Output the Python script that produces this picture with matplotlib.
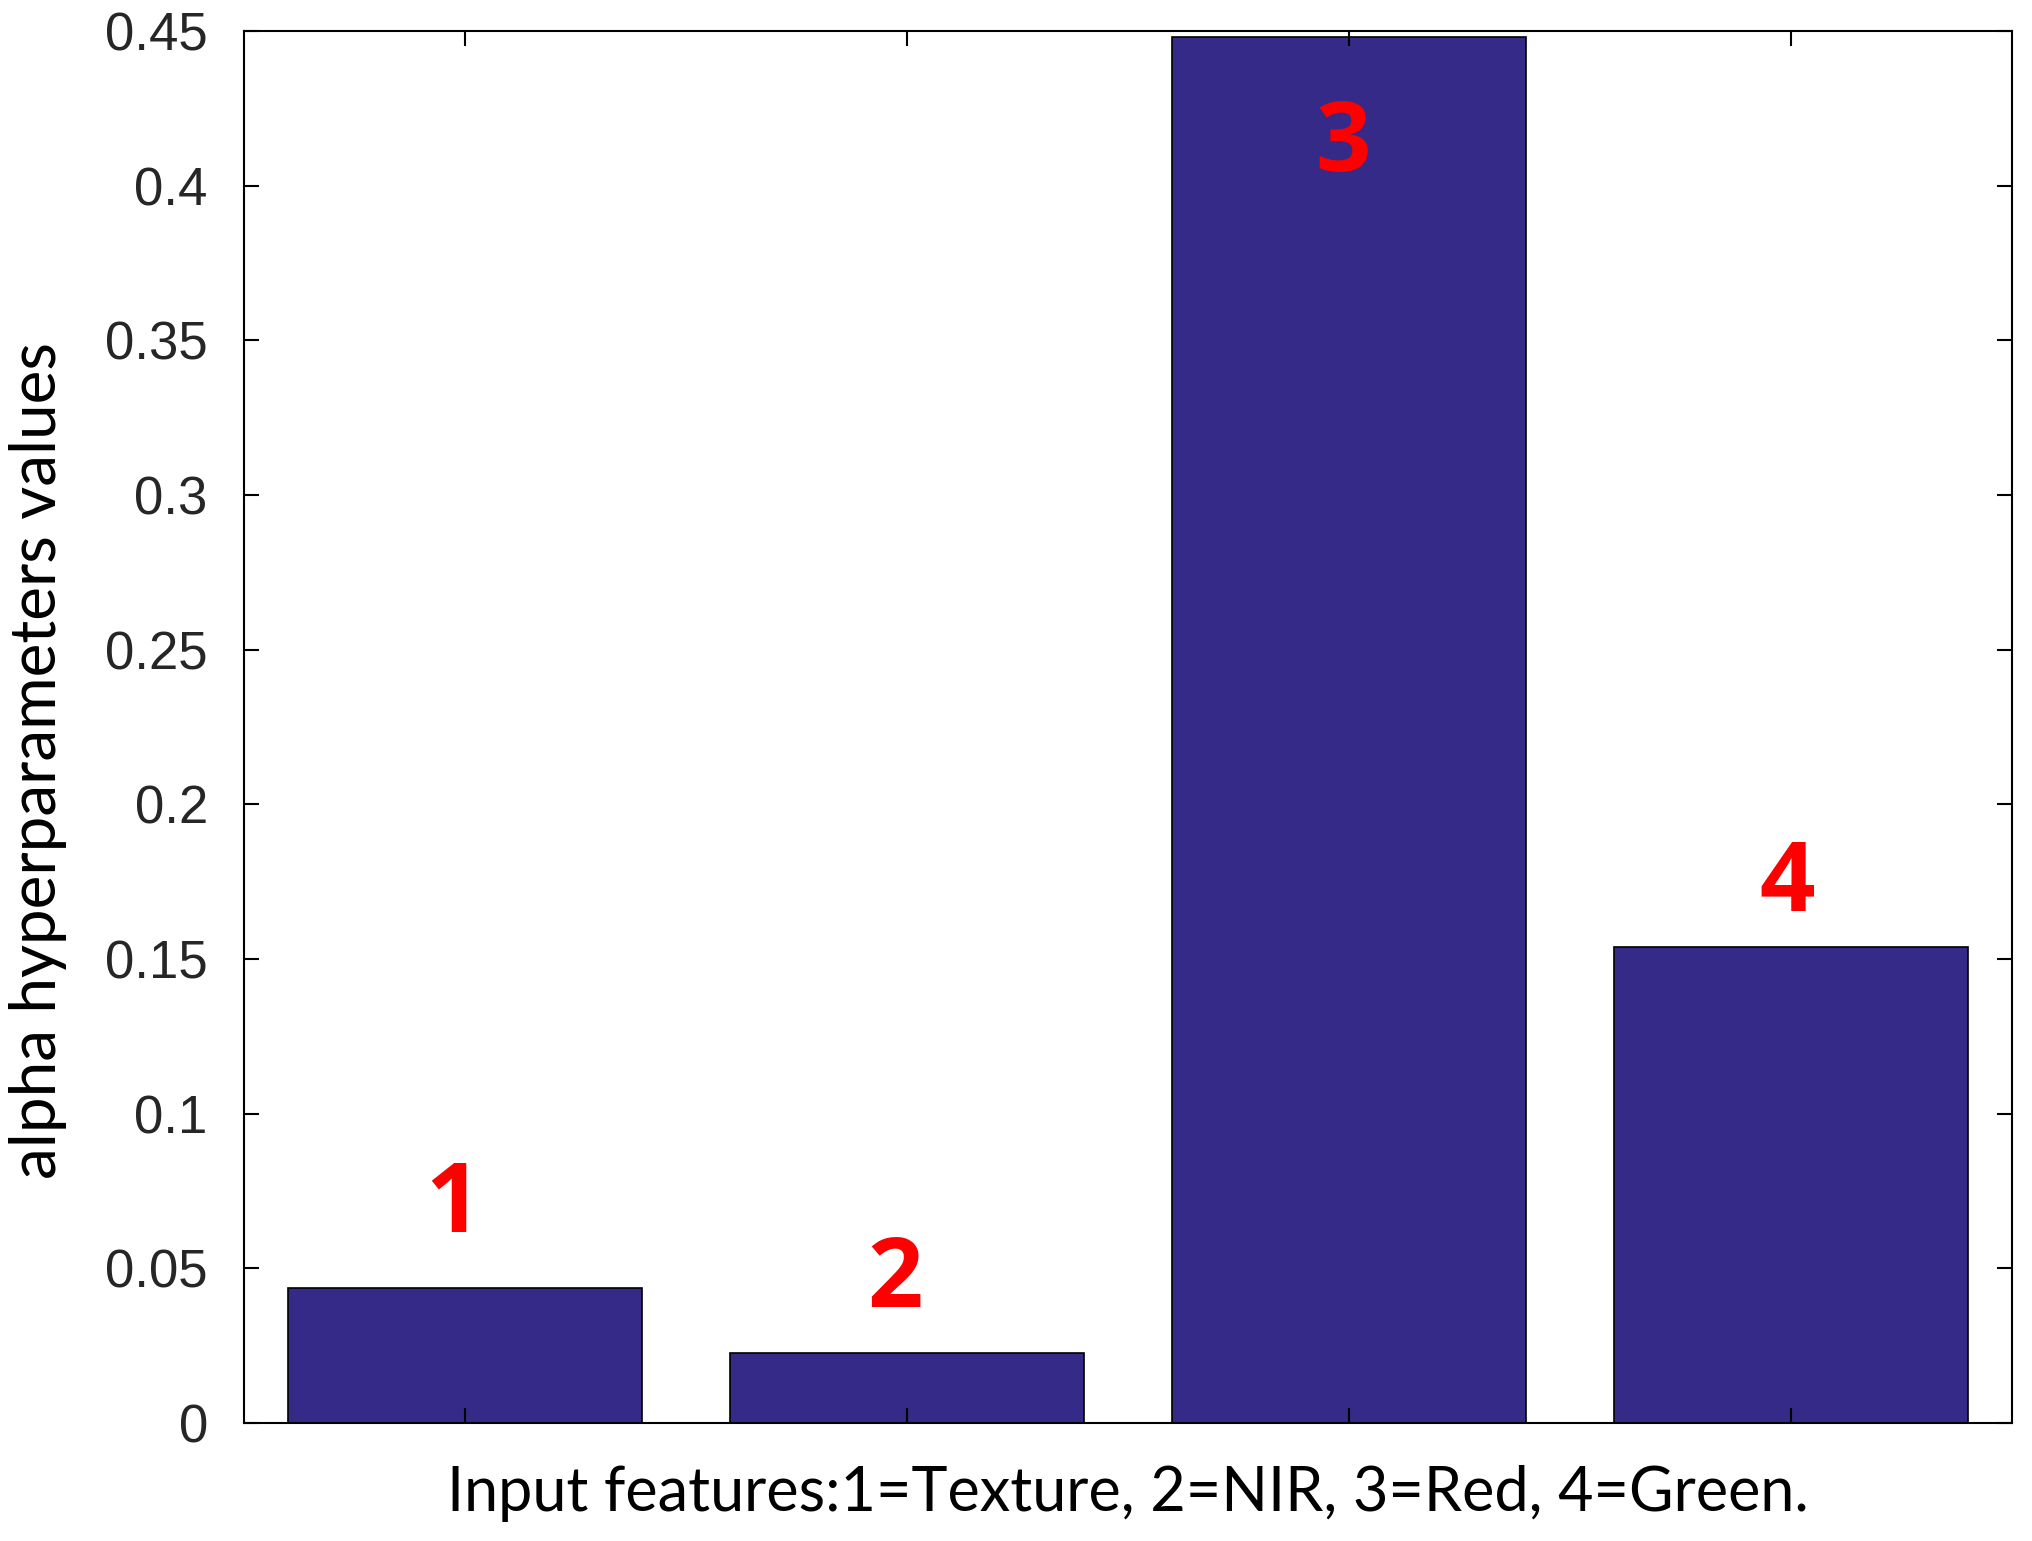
import matplotlib.pyplot as plt
import numpy as np

# feature index and alpha values
features = [1, 2, 3, 4]
alpha_vals = [0.0436, 0.0226, 0.448, 0.154]
label_text = ['1', '2', '3', '4']
label_x = [0.972, 1.972, 2.987, 3.99]
label_y = [0.070, 0.0457, 0.413, 0.1737]
yticks = [0, 0.05, 0.1, 0.15, 0.2, 0.25, 0.3, 0.35, 0.4, 0.45]
ytick_labels = ['0', '0.05', '0.1', '0.15', '0.2', '0.25', '0.3', '0.35', '0.4', '0.45']

fig = plt.figure(figsize=(20.33, 15.41), dpi=100)
ax = fig.add_axes([0.120, 0.0766, 0.8697, 0.9034])

ax.bar(features, alpha_vals, width=0.8, color='#352a87', edgecolor='black', linewidth=1.2)

for x, y, t in zip(label_x, label_y, label_text):
    ax.text(x, y, t, color='#ff0000', fontsize=70, fontweight='bold',
            family=['Open Sans', 'DejaVu Sans'], ha='center', va='center')

ax.set_xlim(0.5, 4.5)
ax.set_ylim(0, 0.45)
ax.set_xticks(features)
ax.set_xticklabels([])
ax.set_yticks(yticks)
ax.set_yticklabels(ytick_labels, family=['Liberation Sans', 'DejaVu Sans'], fontsize=38, color='#262626')
ax.tick_params(direction='in', length=11, width=1.5, top=True, right=True)
ax.tick_params(axis='y', pad=26)
ax.tick_params(axis='x', pad=10)

for s in ax.spines.values():
    s.set_linewidth(1.5)

ax.set_ylabel('alpha hyperparameters values', family=['Lato', 'DejaVu Sans'], fontsize=46)
ax.yaxis.set_label_coords(-0.100, 0.4756)
ax.set_xlabel('Input features:1=Texture, 2=NIR, 3=Red, 4=Green.', family=['Lato', 'DejaVu Sans'],
              fontsize=44, labelpad=20)

fig.savefig('out.png', dpi=100)
